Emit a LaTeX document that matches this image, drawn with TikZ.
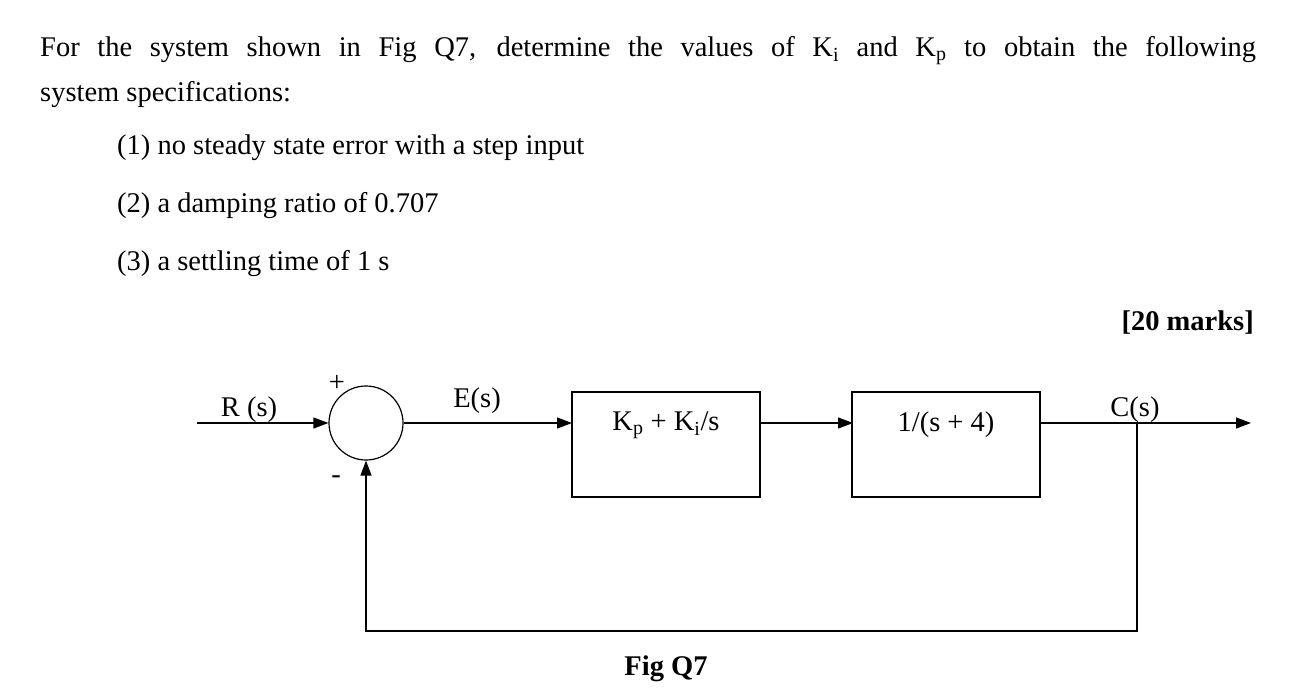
\documentclass[tikz,border=0pt]{standalone}
\usepackage{fontspec}
\setmainfont{Liberation Serif}
\usetikzlibrary{arrows.meta}
\begin{document}
\begin{tikzpicture}[x=1pt,y=-1pt,
  txt/.style={inner sep=0pt,font=\fontsize{28.5}{40}\selectfont},
  blk/.style={draw,line width=1.2pt,minimum width=188pt,minimum height=105pt},
  sig/.style={line width=1.2pt,-{Triangle[length=15pt,width=11pt]}},
  ln/.style={line width=1.2pt}]
\useasboundingbox (0,0) rectangle (1299,693);
\node[txt,anchor=base west,text width=1216pt,align=justify,font=\fontsize{28.5}{45}\selectfont] (p1) at (40,57) {For the system shown in Fig Q7, determine the values of K\textsubscript{i} and K\textsubscript{p} to obtain the following\linebreak system specifications:};
\node[txt,anchor=base west] (i1) at (117,154) {(1) no steady state error with a step input};
\node[txt,anchor=base west] (i2) at (117,212) {(2) a damping ratio of 0.707};
\node[txt,anchor=base west] (i3) at (117,270) {(3) a settling time of 1 s};
\node[txt,anchor=base east,font=\fontsize{28.5}{30}\bfseries] (mk) at (1254,330) {[20 marks]};
\node[draw,circle,line width=1.2pt,minimum size=74pt,inner sep=0pt] (sum) at (366,423) {};
\node[blk] (b1) at (666,444.5) {};
\node[txt] at (666,425) {K\textsubscript{p} + K\textsubscript{i}/s};
\node[blk] (b2) at (946,444.5) {};
\node[txt] at (946,425) {1/(s + 4)};
\coordinate (in) at (197,423);
\coordinate (out) at (1251,423);
\coordinate (tap) at (1137,423);
\coordinate (b1w) at (572,423);
\coordinate (b1e) at (760,423);
\coordinate (b2w) at (853,423);
\coordinate (b2e) at (1040,423);
\draw[sig] (in) -- (sum.west);
\draw[sig] (sum.east) -- (b1w);
\draw[sig] (b1e) -- (b2w);
\draw[sig] (b2e) -- (out);
\draw[sig] (tap) -- (1137,631) -- (366,631) -- (sum.south);
\node[txt] at (249,410) {R (s)};
\node[txt] at (337,383) {+};
\node[txt] at (336,480) {-};
\node[txt] at (477,401) {E(s)};
\node[txt] at (1135,410) {C(s)};
\node[txt,font=\fontsize{28.5}{30}\bfseries] at (666,669) {Fig Q7};
\end{tikzpicture}
\end{document}
